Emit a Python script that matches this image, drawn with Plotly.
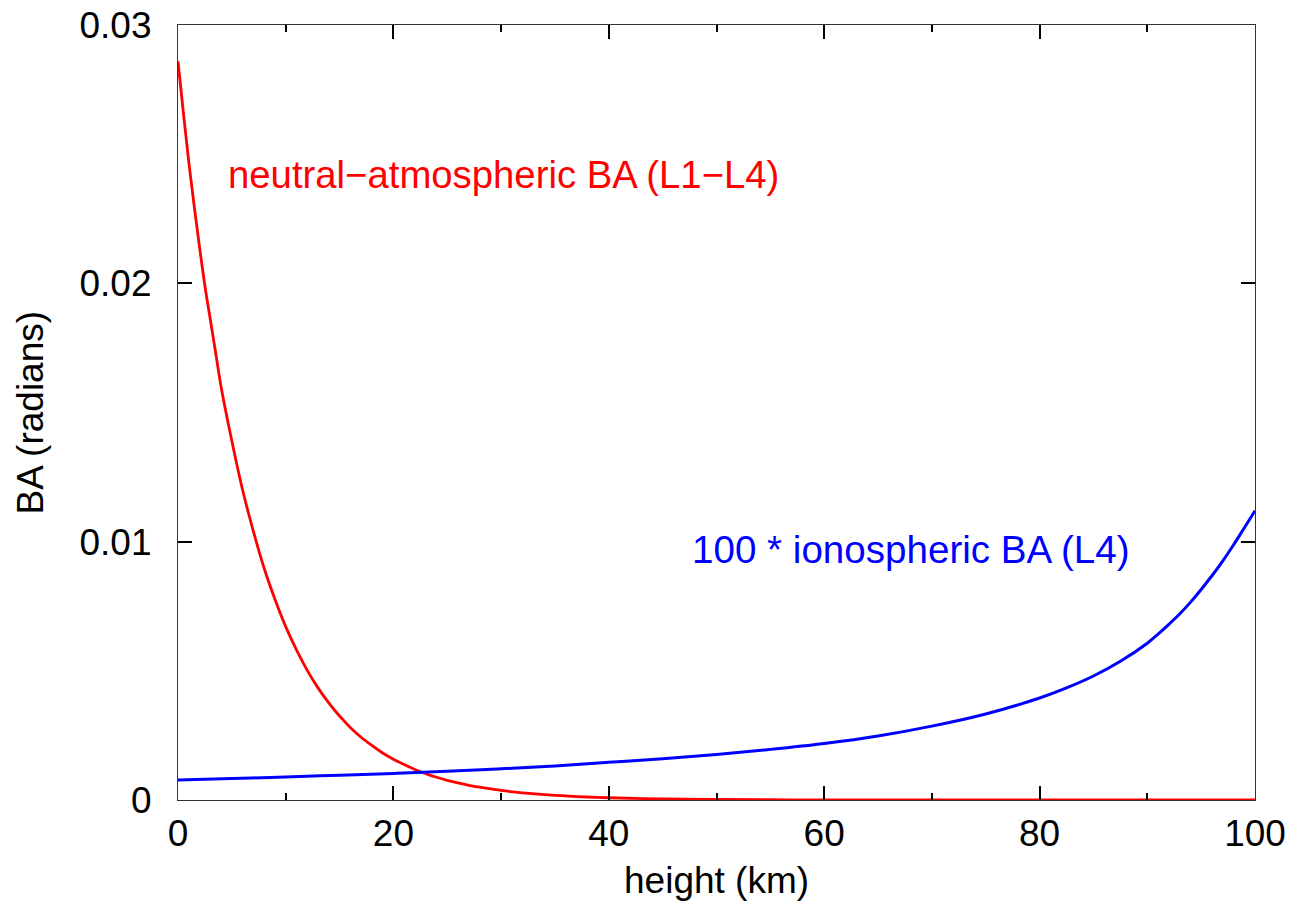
import plotly.graph_objects as go

# neutral-atmospheric bending angle (radians) vs height (km)
neutral_h = [0, 0.5, 1, 1.5, 2, 2.5, 3, 3.5, 4, 5, 6, 7, 8, 9, 10, 11, 12, 13, 14, 15, 16, 17,
             18, 19, 20, 21, 22, 23, 24, 25, 26, 27, 28, 30, 32, 35, 38, 40, 45, 50, 55, 60,
             70, 80, 90, 100]
neutral_ba = [0.0286, 0.0266, 0.0247, 0.0230, 0.0214, 0.0199, 0.0186, 0.0173, 0.0160, 0.0139,
              0.0120, 0.0104, 0.00897, 0.00777, 0.00671, 0.00581, 0.00502, 0.00434, 0.00376,
              0.00325, 0.00281, 0.00243, 0.00211, 0.00182, 0.00158, 0.00137, 0.00118,
              0.00102, 0.00088, 0.00076, 0.00066, 0.00057, 0.000494, 0.00037, 0.000277,
              0.00018, 0.000117, 0.000087, 0.000042, 0.00002, 0.00001, 0.000005, 0.000001,
              0.0, 0.0, 0.0]

# 100 * ionospheric bending angle (radians) vs height (km)
iono_h = [0, 5, 10, 15, 20, 25, 30, 35, 40, 45, 50, 55, 60, 65, 70, 75, 80, 82.5, 85, 87.5,
          90, 91, 92, 93, 94, 95, 96, 97, 98, 99, 100]
iono_ba = [0.00077, 0.00083, 0.00089, 0.00096, 0.00103, 0.00111, 0.00121, 0.00132,
           0.00146, 0.00160, 0.00176, 0.00196, 0.00219, 0.00248, 0.00286, 0.00333,
           0.00395, 0.00434, 0.00480, 0.00537, 0.00607, 0.00642, 0.00680, 0.00720,
           0.00765, 0.00815, 0.00868, 0.00925, 0.00987, 0.01053, 0.0112]

x_ticks = [0, 20, 40, 60, 80, 100]
y_ticks = [0, 0.01, 0.02, 0.03]
y_tick_labels = ["0", "0.01", "0.02", "0.03"]

FONT = "Liberation Sans, Arial, Helvetica, sans-serif"

fig = go.Figure()
fig.add_trace(go.Scatter(x=neutral_h, y=neutral_ba, mode="lines",
                         line=dict(color="#ff0000", width=2.8, shape="spline", smoothing=1),
                         showlegend=False, hoverinfo="skip"))
fig.add_trace(go.Scatter(x=iono_h, y=iono_ba, mode="lines",
                         line=dict(color="#0000ff", width=3, shape="spline", smoothing=1),
                         showlegend=False, hoverinfo="skip"))

fig.add_annotation(x=4.5, y=0.0242, xref="x", yref="y", text="neutral\u2212atmospheric BA (L1\u2212L4)",
                   showarrow=False, xanchor="left", yanchor="middle",
                   font=dict(family=FONT, size=38.3, color="#ff0000"))
fig.add_annotation(x=47.5, y=0.00968, xref="x", yref="y", text="100 * ionospheric BA (L4)",
                   showarrow=False, xanchor="left", yanchor="middle",
                   font=dict(family=FONT, size=38.6, color="#0000ff"))

# axis titles
fig.add_annotation(x=0.5, y=0, xref="paper", yref="paper", text="height (km)",
                   showarrow=False, xanchor="center", yanchor="middle", yshift=-80,
                   font=dict(family=FONT, size=37, color="black"))
fig.add_annotation(x=0, y=0.5, xref="paper", yref="paper", text="BA (radians)",
                   showarrow=False, xanchor="center", yanchor="middle", xshift=-148,
                   textangle=-90, font=dict(family=FONT, size=37, color="black"))

fig.update_layout(
    width=1290, height=906,
    margin=dict(l=178, r=35, t=25, b=106),
    paper_bgcolor="white", plot_bgcolor="white",
    font=dict(family=FONT, size=37, color="black"),
)
fig.update_xaxes(
    range=[0, 100], tickvals=x_ticks, ticks="inside", ticklen=14, tickwidth=1.5,
    tickcolor="black", showline=True, linecolor="#333", linewidth=1.2, mirror="ticks",
    showgrid=False, zeroline=False, automargin=False,
    minor=dict(dtick=10, ticks="inside", ticklen=7, tickwidth=1.5, tickcolor="black", showgrid=False),
    tickfont=dict(size=37),
)
fig.update_yaxes(
    range=[0, 0.03], tickvals=y_ticks, ticktext=y_tick_labels, ticks="inside", ticklen=14,
    tickwidth=1.5, tickcolor="black", showline=True, linecolor="#333", linewidth=1.2,
    mirror="ticks", showgrid=False, zeroline=False, automargin=False,
    tickfont=dict(size=37), ticklabelstandoff=18,
)

fig.write_html("out.html", config={"displayModeBar": False},
               post_script="document.body.style.margin='0';document.body.style.overflow='hidden';")
